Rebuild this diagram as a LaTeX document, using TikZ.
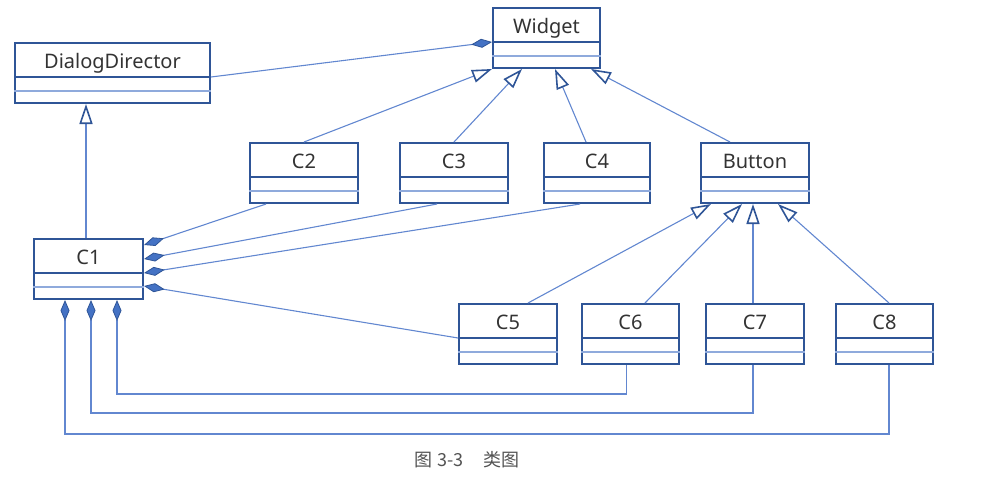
\documentclass[tikz,border=0pt]{standalone}
\usepackage{fontspec}
\setmainfont{Noto Sans}
\newfontfamily\cjkfont{Noto Sans CJK SC}
\usepackage{tikz}
\usetikzlibrary{arrows.meta,positioning,calc}

\definecolor{umlframe}{RGB}{47,85,151}
\definecolor{umlline}{RGB}{98,135,208}
\definecolor{umlsep}{RGB}{143,170,220}
\definecolor{umlfill}{RGB}{68,114,196}
\definecolor{umltext}{RGB}{51,51,51}

\tikzset{
  classbox/.style={draw=umlframe,line width=2pt,minimum height=60pt,inner sep=0pt},
  classname/.style={text=umltext,font=\fontsize{20}{24}\selectfont,inner sep=0pt,anchor=base},
  sepdark/.style={draw=umlframe,line width=2pt},
  seplight/.style={draw=umlsep,line width=1.6pt},
  gen/.style={draw=umlline,line width=1.1pt,-{Triangle[length=20pt,width=13pt,line width=1.6pt,color=umlframe,fill=white]}},
  comp/.style={draw=umlline,line width=1.1pt,-{Diamond[length=21pt,width=9pt,line width=0.8pt,color=umlframe,fill=umlfill]}}
}

\begin{document}
\begin{tikzpicture}[x=1pt,y=-1pt]
                \useasboundingbox (0,0) rectangle (981,482);

                % Classes
                \foreach \n/\x/\y/\w/\t in {widget/546.5/38/107/Widget,
                                            director/112.5/73/195/DialogDirector,
                                            c1/88.5/269/109/C1,
                                            c2/304/173/108/C2,
                                            c3/454/173/108/C3,
                                            c4/597/173/106/C4,
                                            button/755/173/108/Button,
                                            c5/508/334/98/C5,
                                            c6/630.5/334/97/C6,
                                            c7/755/334/98/C7,
                                            c8/884.5/334/97/C8} {
                    \node[classbox,minimum width=\w pt] (\n) at (\x,\y) {};
                    \node[classname] (\n-name) at ($(\n.north)+(0,26)$) {\t};
                    \draw[sepdark] ($(\n.north west)+(0,35)$) -- ($(\n.north east)+(0,35)$);
                    \draw[seplight] ($(\n.north west)+(0,49)$) -- ($(\n.north east)+(0,49)$);
                }

                % Generalizations
                \coordinate (c1top) at ($(c1.north)+(-2.5,0)$);
                \draw[gen] (c1top) -- (c1top |- director.south);
                \draw[gen] (c2.north) -- (widget.south west);
                \draw[gen] (c3.north) -- ($(widget.south west)+(30,0)$);
                \draw[gen] ($(c4.north)+(-11,0)$) -- ($(widget.south)+(8.5,0)$);
                \draw[gen] ($(button.north)+(-25,0)$) -- ($(widget.south east)+(-10,0)$);
                \draw[gen] ($(c5.north)+(20,0)$) -- ($(button.south west)+(11,0)$);
                \draw[gen] ($(c6.north)+(14.5,0)$) -- ($(button.south)+(-13,0)$);
                \draw[gen] ($(c7.north)+(-2,0)$) -- ($(button.south)+(-2,0)$);
                \draw[gen] ($(c8.north)+(4.5,0)$) -- ($(button.south)+(23,0)$);

                % Compositions
                \draw[comp] ($(director.north east)+(0,35)$) -- ($(widget.north west)+(0,35)$);
                \draw[comp] ($(c2.south west)+(17,0)$) -- ($(c1.north east)+(0,7)$);
                \draw[comp] ($(c3.south)+(-17,0)$) -- ($(c1.north east)+(0,21)$);
                \draw[comp] ($(c4.south)+(-17,0)$) -- ($(c1.north east)+(0,35)$);
                \draw[comp] ($(c5.north west)+(0,35)$) -- ($(c1.north east)+(0,48)$);

                \coordinate (k6) at ($(c1.south west)+(84,0)$);
                \coordinate (k7) at ($(c1.south west)+(58,0)$);
                \coordinate (k8) at ($(c1.south west)+(32,0)$);
                \draw[comp] ($(c6.south)+(-4,0)$) -- ++(0,29) -| (k6);
                \draw[comp] ($(c7.south)+(-2,0)$) -- ++(0,48) -| (k7);
                \draw[comp] ($(c8.south)+(4.5,0)$) -- ++(0,69) -| (k8);

                % Caption
                \node[text=umltext!85,font=\cjkfont\fontsize{18}{21}\selectfont] (caption) at (467,460) {图\hspace{5pt}3-3\hspace{20pt}类图};

            \end{tikzpicture}
\end{document}
